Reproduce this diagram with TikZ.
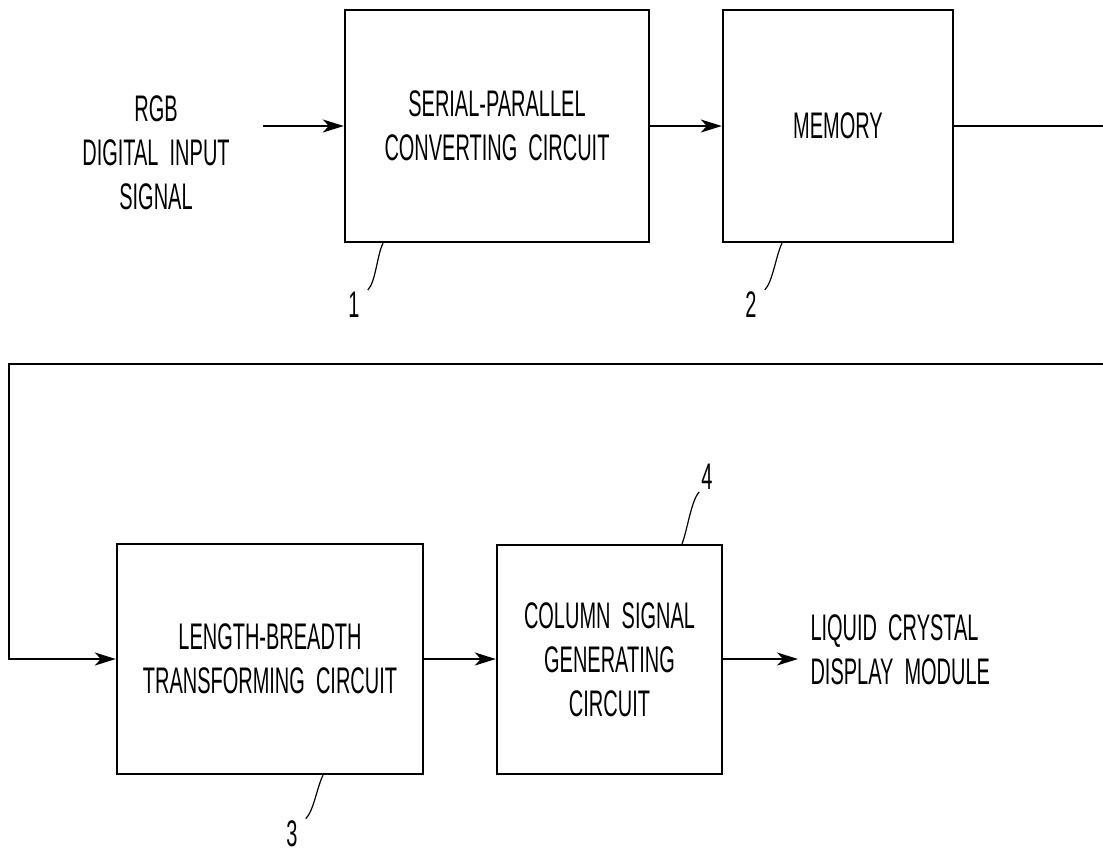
\documentclass[tikz,border=0pt]{standalone}
\usepackage{fontspec}
\setmainfont{Liberation Sans}[FakeStretch=0.54,WordSpace=2]
\usepackage{tikz}
\usetikzlibrary{arrows.meta}

\begin{document}
\begin{tikzpicture}[
  x=1pt,y=-1pt,
  font=\fontsize{37}{44}\selectfont,
  block/.style={draw,line width=2.4pt,inner sep=0pt,align=center},
  wire/.style={line width=1.7pt},
  feed/.style={wire,-{Stealth[length=21pt,width=13pt,inset=6pt]}},
  lead/.style={line width=1.2pt},
  refno/.style={inner sep=2pt},
]
\useasboundingbox (0,0) rectangle (1103,856);
\node[align=center] (rgb) at (156,153) {RGB\\DIGITAL INPUT\\SIGNAL};
\node[block,minimum width=304pt,minimum height=232pt] (conv) at (497,126) {SERIAL-PARALLEL\\CONVERTING CIRCUIT};
\node[block,minimum width=230pt,minimum height=232pt] (mem) at (838,126) {MEMORY};
\node[block,minimum width=306pt,minimum height=230pt] (trans) at (270,659) {LENGTH-BREADTH\\TRANSFORMING CIRCUIT};
\node[block,minimum width=225pt,minimum height=229pt] (colgen) at (609.5,659.5) {COLUMN SIGNAL\\GENERATING\\CIRCUIT};
\node[anchor=west,align=left] (lcd) at (807,650) {LIQUID CRYSTAL\\DISPLAY MODULE};
\node[refno] (n1) at (354,305) {1};
\node[refno] (n2) at (751,305) {2};
\node[refno] (n3) at (292,834) {3};
\node[refno] (n4) at (707,477) {4};
\coordinate (rgbout) at (263,126);
\coordinate (memout) at (1103,126);
\coordinate (backR) at (1103,364);
\coordinate (backL) at (9,364);
\coordinate (lcdin) at (798,659);
\draw[feed] (rgbout) -- (conv.west);
\draw[feed] (conv.east) -- (mem.west);
\draw[wire] (mem.east) -- (memout);
\draw[feed] (backR) -- (backL) |- (trans.west);
\draw[feed] (trans.east) -- (colgen.west |- trans.east);
\draw[feed] (colgen.east |- trans.east) -- (lcdin);
\draw[lead] (383,0 |- conv.south) .. controls +(-6,12) and +(8,-8) .. ([xshift=6pt]n1.north east);
\draw[lead] (782,0 |- mem.south) .. controls +(-6,12) and +(8,-8) .. ([xshift=6pt]n2.north east);
\draw[lead] (323,0 |- trans.south) .. controls +(-6,12) and +(8,-8) .. ([xshift=6pt]n3.north east);
\draw[lead] (682,0 |- colgen.north) .. controls +(5,-12) and +(-8,8) .. (n4.south west);
\end{tikzpicture}
\end{document}
